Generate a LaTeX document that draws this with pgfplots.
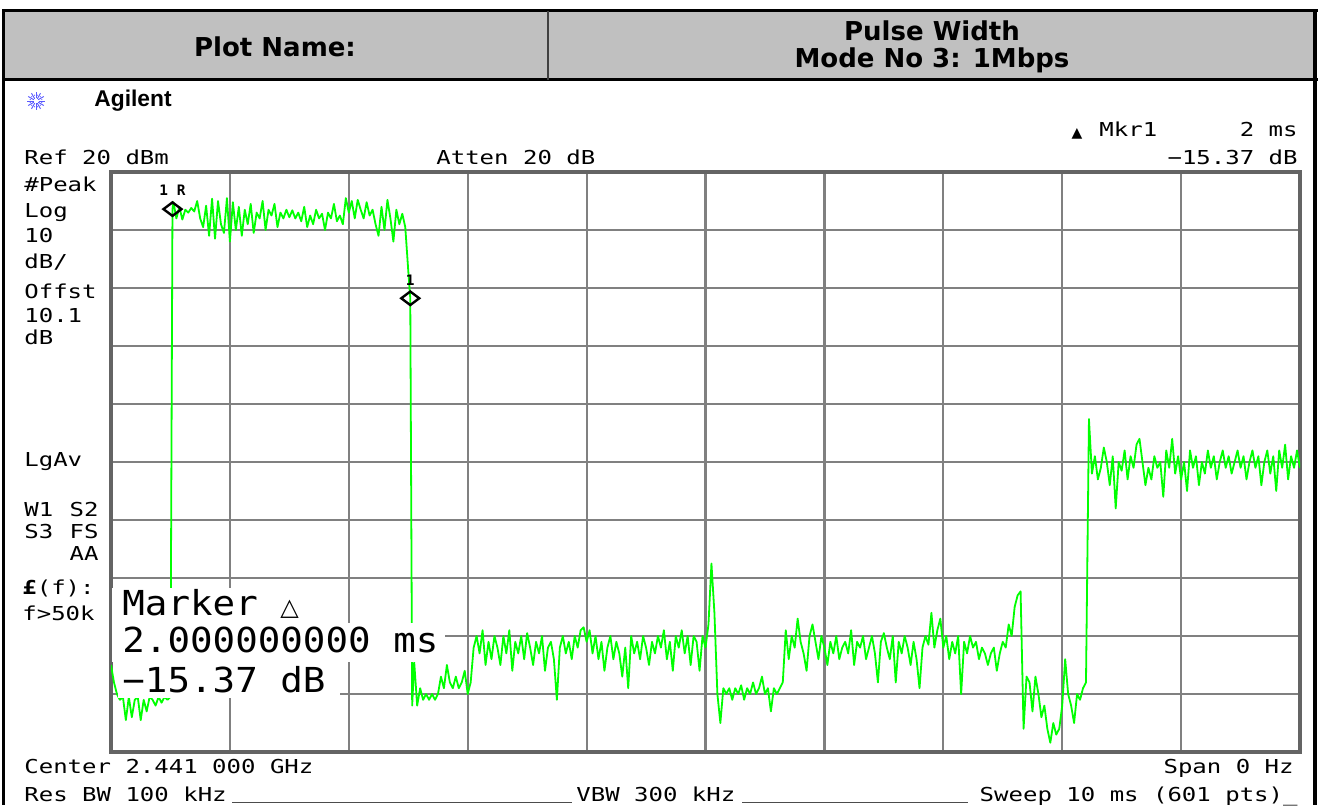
\documentclass[border=0pt]{standalone}
\usepackage{fontspec}
\setmainfont{DejaVu Sans}
\newfontfamily\mono[FakeStretch=1.25]{DejaVu Sans Mono}
\newfontfamily\monoplain{DejaVu Sans Mono}
\newfontfamily\monobig[FakeStretch=1.09]{DejaVu Sans Mono}
\newfontfamily\hdr{DejaVu Sans}
\newfontfamily\arialb{Liberation Sans}
\newfontfamily\sym{DejaVu Sans}
\usepackage{pgfplots}
\pgfplotsset{compat=1.18}
\definecolor{trace}{RGB}{0,255,0}
\definecolor{hdrgray}{RGB}{192,192,192}
\definecolor{gridgray}{RGB}{128,128,128}
\definecolor{bordergray}{RGB}{100,100,100}
\definecolor{agblue}{RGB}{90,90,255}
\begin{document}
\begin{tikzpicture}[
  small/.style={font=\mono\fontsize{9.6}{11}\selectfont, inner sep=0pt, anchor=base west},
  smallr/.style={font=\mono\fontsize{9.6}{11}\selectfont, inner sep=0pt, anchor=base east},
  big/.style={font=\monobig\fontsize{17.2}{19}\selectfont, inner sep=0pt, anchor=base west}]
\begin{scope}[x=0.5pt,y=0.5pt]
\path[use as bounding box, fill=white] (0,0) rectangle (1323,805);
% header table
\fill[hdrgray] (3,794) rectangle (1315,725);
\draw[black, line width=1.5pt] (2,794) -- (1318,794);
\draw[black, line width=1.5pt] (2,725) -- (1318,725);
\draw[black!75, line width=0.8pt] (548,794) -- (548,725);
\draw[black, line width=1.5pt] (3,795) -- (3,0);
\draw[black, line width=2pt] (1315,795) -- (1315,0);
\node[font=\hdr\bfseries\fontsize{13}{15}\selectfont] at (275,758) {Plot Name:};
\node[font=\hdr\bfseries\fontsize{13}{15}\selectfont] at (932,774) {Pulse Width};
\node[font=\hdr\bfseries\fontsize{13}{15}\selectfont] at (932,745) {Mode No 3: 1Mbps};
% Agilent logo
\foreach \a in {0,30,...,330}
  \draw[agblue, line width=0.45pt] (36,704) ++(\a:2.5) -- ++(\a:6.5);
\foreach \a in {15,45,...,345}
  \fill[agblue] (36,704) ++(\a:6) circle (0.6);
\node[anchor=west, inner sep=0pt, font=\arialb\bfseries\fontsize{11.4}{13}\selectfont] at (94,704) {Agilent};
% analyzer annotations
\node[small] at (24,640) {Ref 20 dBm};
\node[small] at (436,640) {Atten 20 dB};
\node[smallr] at (1298,640) {−15.37 dB};
\node[font=\sym\fontsize{7}{8}\selectfont, inner sep=0pt] at (1077,671) {▲};
\node[small] at (1099,668) {Mkr1};
\node[smallr] at (1298,668) {2 ms};
\node[small] at (24,613) {\#Peak};
\node[small] at (24,587) {Log};
\node[small] at (24,562) {10};
\node[small] at (24,537) {dB/};
\node[small] at (24,507) {Offst};
\node[small] at (24,483) {10.1};
\node[small] at (24,461) {dB};
\node[small] at (24,339) {LgAv};
\node[small] at (24,289) {W1};
\node[smallr] at (99,289) {S2};
\node[small] at (24,267) {S3};
\node[smallr] at (99,267) {FS};
\node[smallr] at (99,245) {AA};
\node[small] at (22,211) {{\bfseries £}(f):};
\node[small] at (22,185) {f>50k};
\node[small] at (24,32) {Center 2.441 000 GHz};
\node[smallr] at (1294,32) {Span 0 Hz};
\node[small] at (24,4) {Res BW 100 kHz};
\node[small] at (576,4) {VBW 300 kHz};
\node[smallr] at (1298,4) {Sweep 10 ms (601 pts)\_};
\draw[black!70, line width=0.5pt] (232,3) -- (572,3);
\draw[black!70, line width=0.5pt] (742,3) -- (968,3);
\end{scope}

\begin{axis}[at={(55.5pt,26.5pt)}, anchor=south west, scale only axis,
  width=594.5pt, height=290pt,
  xmin=0, xmax=10, ymin=-80, ymax=20,
  xtick={0,1,...,10}, ytick={-80,-70,...,20},
  xticklabels={}, yticklabels={}, major tick length=0pt,
  grid=major, grid style={gridgray, line width=1.1pt},
  axis line style={bordergray, line width=1.8pt}]
\addplot[trace, line width=0.9pt, line join=round, mark=none] coordinates {
(0,-65)(0.025,-68)(0.05,-70)(0.075,-71)(0.1,-70.5)(0.125,-74.5)(0.15,-70.5)(0.175,-74)(0.2,-71)(0.225,-70.5)(0.25,-74.5)(0.275,-71)(0.3,-73)(0.325,-70.5)(0.35,-71)(0.375,-72)(0.4,-70.5)(0.425,-71.5)(0.45,-70.5)(0.475,-71)(0.5,-70.5)
(0.517,13.6)
(0.525,14.8)(0.55,12.0)(0.575,14.0)(0.6,11.8)(0.625,13.5)(0.65,13.0)(0.675,13.8)(0.7,13.2)(0.725,15.0)(0.75,12.0)(0.775,10.5)(0.8,14.2)(0.825,9.0)(0.85,15.4)(0.875,8.5)(0.9,15.0)(0.925,11.0)(0.95,9.5)(0.975,15.5)
(1.0,8.0)(1.025,14.8)(1.05,10.0)(1.075,14.0)(1.1,9.0)(1.125,13.5)(1.15,11.0)(1.175,14.5)(1.2,9.5)(1.225,13.0)(1.25,12.0)(1.275,15.0)(1.3,10.0)(1.325,13.5)(1.35,12.5)(1.375,14.5)(1.4,10.5)(1.425,13.0)(1.45,12.0)(1.475,13.5)
(1.5,12.2)(1.525,13.4)(1.55,12.0)(1.575,13.0)(1.6,11.5)(1.625,14.0)(1.65,10.5)(1.675,12.5)(1.7,11.0)(1.725,13.5)(1.75,12.0)(1.775,12.8)(1.8,10.0)(1.825,13.0)(1.85,12.0)(1.875,14.5)(1.9,11.5)(1.925,12.5)(1.95,11.0)(1.975,15.5)
(2.0,13.0)(2.025,15.0)(2.05,12.0)(2.075,15.2)(2.1,13.5)(2.125,12.0)(2.15,14.8)(2.175,12.5)(2.2,13.5)(2.225,11.0)(2.25,9.0)(2.275,14.0)(2.3,10.0)(2.325,15.2)(2.35,12.0)(2.375,8.0)(2.4,13.5)(2.425,11.0)(2.45,12.8)(2.475,10.5)
(2.5,3.0)(2.517,-1.77)(2.533,-72)
(2.55,-64.5)(2.575,-72)(2.6,-69)(2.625,-71)(2.65,-70)(2.675,-71)(2.7,-70)(2.725,-71)(2.75,-70)(2.775,-67)(2.8,-69)(2.825,-65)(2.85,-68)(2.875,-69)(2.9,-67)(2.925,-69)(2.95,-68)(2.975,-66)(3.0,-70)(3.025,-68)(3.05,-62)
(3.075,-60)(3.1,-63)(3.125,-59)(3.15,-65)(3.175,-61)(3.2,-64)(3.225,-60)(3.25,-62)(3.275,-65)(3.3,-60)(3.325,-63)(3.35,-59)(3.375,-66)(3.4,-61)(3.425,-63)(3.45,-60)(3.475,-64)
(3.5,-59.5)(3.525,-62)(3.55,-65)(3.575,-61)(3.6,-63)(3.625,-60)(3.65,-66)(3.675,-62)(3.7,-61)(3.725,-64)(3.75,-71)(3.775,-62)(3.8,-60)(3.825,-63)(3.85,-61)(3.875,-64)(3.9,-60)(3.925,-62)(3.95,-59)(3.975,-58.5)
(4.0,-61)(4.025,-59)(4.05,-63)(4.075,-60)(4.1,-64)(4.125,-61)(4.15,-66)(4.175,-62)(4.2,-60)(4.225,-64)(4.25,-61)(4.275,-63)(4.3,-67)(4.325,-62)(4.35,-69)(4.375,-60)(4.4,-63)(4.425,-61)(4.45,-64)(4.475,-60)
(4.5,-62)(4.525,-65)(4.55,-61)(4.575,-63)(4.6,-60)(4.625,-62)(4.65,-59)(4.675,-64)(4.7,-61)(4.725,-66)(4.75,-60)(4.775,-62)(4.8,-59)(4.825,-63)(4.85,-60)(4.875,-65)(4.9,-60)(4.925,-61)(4.95,-66)(4.975,-60)(5.0,-62)
(5.025,-58)(5.05,-47.5)(5.075,-56)(5.1,-70)(5.125,-75)(5.15,-69)(5.175,-70)(5.2,-69)(5.225,-71)(5.25,-69)(5.275,-70)(5.3,-68.5)(5.325,-71)(5.35,-69)(5.375,-70)(5.4,-68)(5.425,-70)(5.45,-69)(5.475,-67)(5.5,-70)(5.525,-69)(5.55,-73)(5.575,-69)(5.6,-70)(5.625,-69)(5.65,-68)
(5.675,-59)(5.7,-64)(5.725,-60)(5.75,-62)(5.775,-57)(5.8,-61)(5.825,-63)(5.85,-66)(5.875,-60)(5.9,-58)(5.925,-61)(5.95,-64)(5.975,-60)
(6.0,-62)(6.025,-65)(6.05,-61)(6.075,-63)(6.1,-60)(6.125,-64)(6.15,-62)(6.175,-61)(6.2,-63)(6.225,-59)(6.25,-65)(6.275,-61)(6.3,-62)(6.325,-60)(6.35,-64)(6.375,-62)(6.4,-60)(6.425,-63)(6.45,-68)(6.475,-61)
(6.5,-59.5)(6.525,-62)(6.55,-64)(6.575,-60)(6.6,-68)(6.625,-61)(6.65,-63)(6.675,-60)(6.7,-62)(6.725,-65)(6.75,-61)(6.775,-64)(6.8,-69)(6.825,-62)(6.85,-60)(6.875,-61.5)(6.9,-56)(6.925,-62)(6.95,-59)(6.975,-57)
(7.0,-62)(7.025,-60)(7.05,-64)(7.075,-61)(7.1,-63)(7.125,-60)(7.15,-70)(7.175,-61)(7.2,-63)(7.225,-60)(7.25,-62)(7.275,-61)(7.3,-64)(7.325,-62)(7.35,-63)(7.375,-65)(7.4,-63)(7.425,-62)(7.45,-66)(7.475,-63)
(7.5,-61)(7.525,-62)(7.55,-58)(7.575,-60)(7.6,-55)(7.625,-53)(7.65,-52.3)
(7.675,-76)(7.7,-67)(7.725,-68)(7.75,-73)(7.775,-67)(7.8,-70)(7.825,-74)(7.85,-72)(7.875,-76)(7.9,-78.4)(7.925,-75)(7.95,-77)(7.975,-76)(8.0,-72)(8.025,-64)(8.05,-70)(8.075,-72)(8.1,-75)(8.125,-70)(8.15,-71)(8.175,-69)(8.2,-68)
(8.225,-22.6)(8.25,-32)(8.275,-29)(8.3,-33)(8.325,-31)(8.35,-27.5)(8.375,-30)(8.4,-34)(8.425,-29)(8.45,-38)(8.475,-30)
(8.5,-31.5)(8.525,-28)(8.55,-33)(8.575,-29)(8.6,-31)(8.625,-27)(8.65,-26)(8.675,-30)(8.7,-34)(8.725,-31)(8.75,-33)(8.775,-29)(8.8,-31)(8.825,-30)(8.85,-36)(8.875,-28)(8.9,-31)(8.925,-26)(8.95,-32)(8.975,-29)
(9.0,-33)(9.025,-30)(9.05,-35)(9.075,-28)(9.1,-31)(9.125,-29)(9.15,-34)(9.175,-30)(9.2,-32)(9.225,-28)(9.25,-31)(9.275,-29)(9.3,-33)(9.325,-30)(9.35,-28)(9.375,-31)(9.4,-29)(9.425,-32)(9.45,-30)(9.475,-28)
(9.5,-31)(9.525,-29)(9.55,-33)(9.575,-30)(9.6,-28)(9.625,-31)(9.65,-29)(9.675,-34)(9.7,-30)(9.725,-28)(9.75,-32)(9.775,-29)(9.8,-35)(9.825,-28)(9.85,-31)(9.875,-27)(9.9,-33)(9.925,-29)(9.95,-31)(9.975,-28)(10.0,-31)
};
\addplot[only marks, mark=diamond, mark size=4.5pt, mark options={rotate=90, draw=black, line width=1.2pt, fill=none}] coordinates {(0.517,13.6)(2.517,-1.77)};
\node[anchor=base, inner sep=0pt, yshift=6.6pt, font=\monoplain\bfseries\fontsize{7.2}{8}\selectfont] at (axis cs:0.517,13.6) {1 R};
\node[anchor=base, inner sep=0pt, yshift=6.3pt, font=\monoplain\bfseries\fontsize{7.2}{8}\selectfont] at (axis cs:2.517,-1.77) {1};
\end{axis}

\begin{scope}[x=0.5pt,y=0.5pt]
% marker readout box
\fill[white] (112,217) rectangle (312,182);
\fill[white] (112,182) rectangle (445,143);
\fill[white] (118,143) rectangle (340,107);
\node[big] at (122,190) {Marker {\sym\fontsize{12}{12}\selectfont △}};
\node[big] at (122,153) {2.000000000 ms};
\node[big] at (122,113) {−15.37 dB};
\end{scope}
\end{tikzpicture}
\end{document}
